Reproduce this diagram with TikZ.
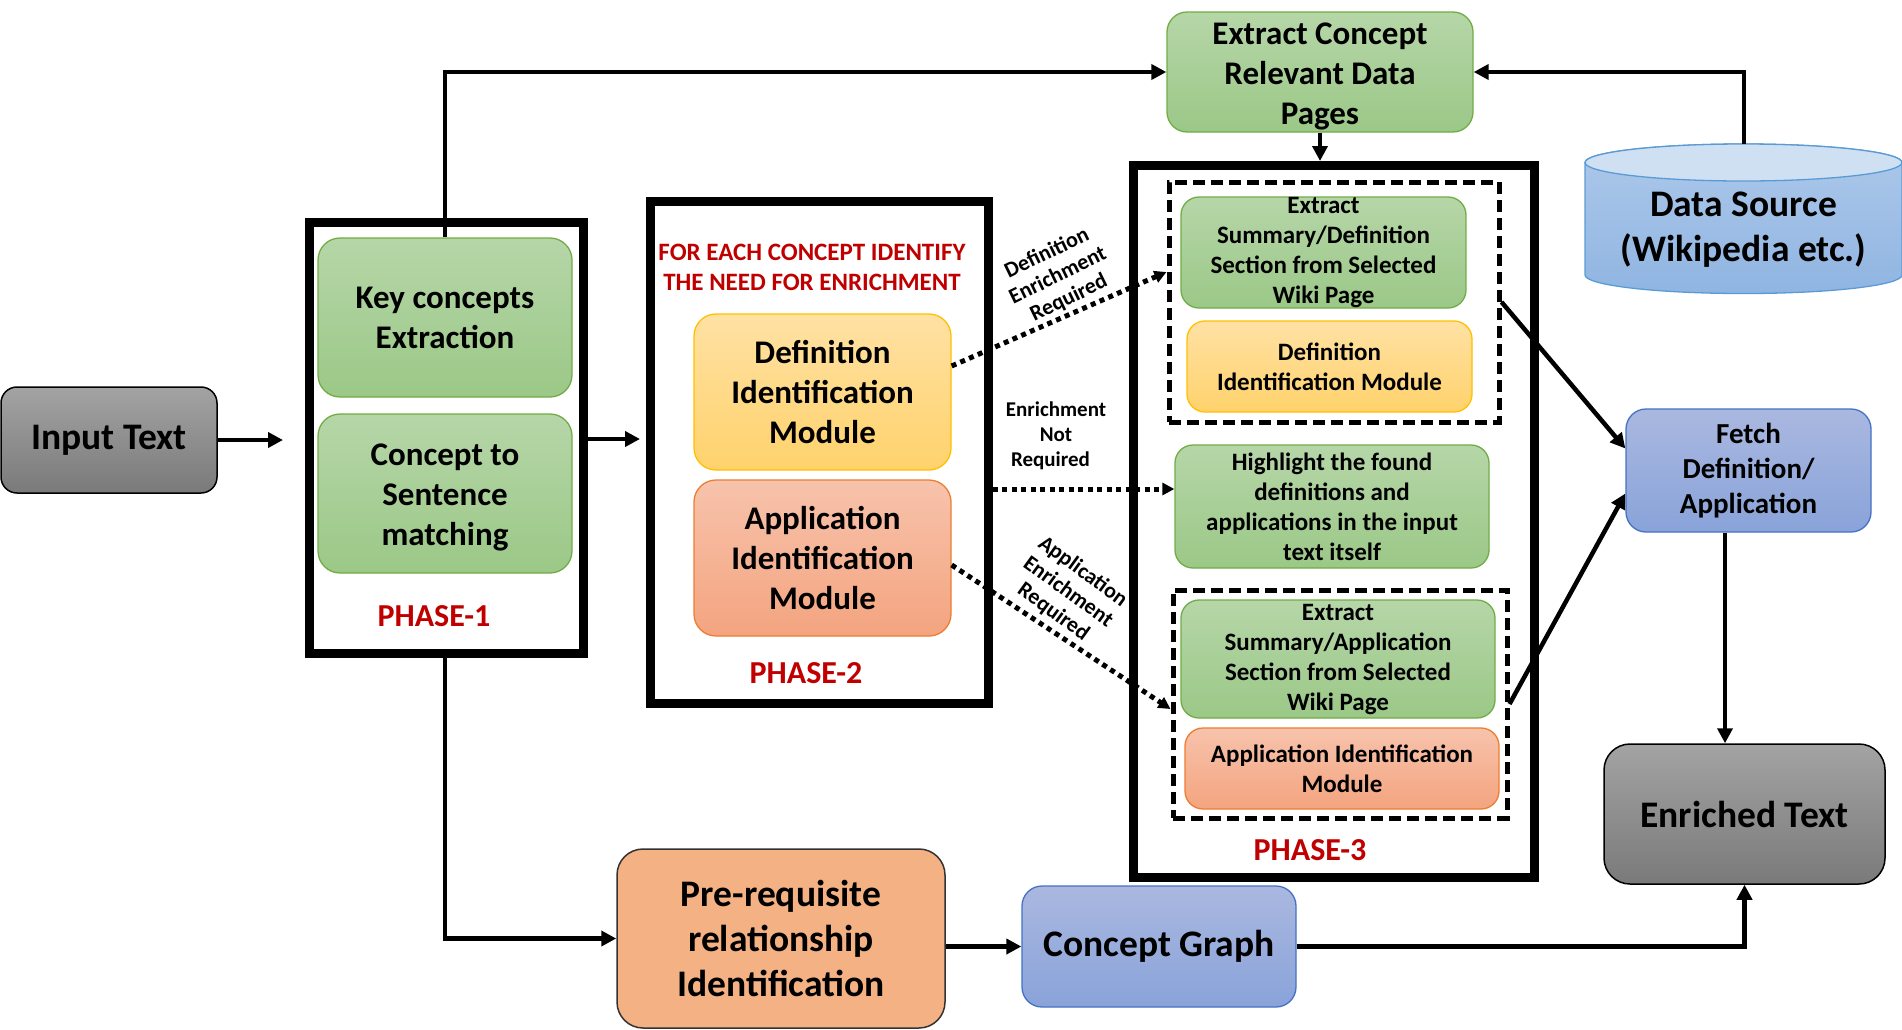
\documentclass[tikz,border=0pt]{standalone}
\usepackage{fontspec}
\setmainfont{Carlito}
\usetikzlibrary{arrows.meta,calc}
\definecolor{gtop}{HTML}{B6D6A8}
\definecolor{gbot}{HTML}{9BC887}
\definecolor{gbd}{HTML}{70AD47}
\definecolor{ytop}{HTML}{FFE1A4}
\definecolor{ybot}{HTML}{FFD26C}
\definecolor{ybd}{HTML}{FFC000}
\definecolor{stop}{HTML}{F7C3AC}
\definecolor{sbot}{HTML}{F4A47F}
\definecolor{sbd}{HTML}{ED7D31}
\definecolor{btop}{HTML}{AAB8E0}
\definecolor{bbot}{HTML}{89A3D9}
\definecolor{bbd}{HTML}{4472C4}
\definecolor{grtop}{HTML}{A3A3A3}
\definecolor{grbot}{HTML}{7A7A7A}
\definecolor{prefill}{HTML}{F3B184}
\definecolor{dstopc}{HTML}{CFE0F2}
\definecolor{dsbt}{HTML}{ADC8EA}
\definecolor{dsbb}{HTML}{90B5E2}
\definecolor{dsbd}{HTML}{5B9BD5}
\definecolor{redtxt}{HTML}{C00000}
\tikzset{
  basebox/.style={draw, line width=1.3pt, align=center, inner sep=0pt},
  greenbox/.style={basebox, draw=gbd, top color=gtop, bottom color=gbot, rounded corners=22pt},
  greensm/.style={basebox, draw=gbd, top color=gtop, bottom color=gbot, rounded corners=18pt},
  yellowbox/.style={basebox, draw=ybd, top color=ytop, bottom color=ybot, rounded corners=22pt},
  yellowsm/.style={basebox, draw=ybd, top color=ytop, bottom color=ybot, rounded corners=18pt},
  salmonbox/.style={basebox, draw=sbd, top color=stop, bottom color=sbot, rounded corners=22pt},
  salmonsm/.style={basebox, draw=sbd, top color=stop, bottom color=sbot, rounded corners=18pt},
  bluebox/.style={basebox, draw=bbd, top color=btop, bottom color=bbot, rounded corners=20pt},
  graybox/.style={basebox, draw=black, line width=1.5pt, top color=grtop, bottom color=grbot, rounded corners=22pt},
  prebox/.style={basebox, draw=black!80, line width=1.5pt, fill=prefill, rounded corners=26pt},
  phasebox/.style={draw=black, line width=9pt, inner sep=0pt},
  dashbox/.style={draw=black, line width=5pt, dash pattern=on 12pt off 6pt, inner sep=0pt},
  fbig/.style={font=\bfseries\fontsize{33}{40}\selectfont},
  fhuge/.style={font=\bfseries\fontsize{37.5}{45}\selectfont},
  fmid/.style={font=\bfseries\fontsize{29}{35}\selectfont},
  fsmall/.style={font=\bfseries\fontsize{25}{30}\selectfont},
  lbl/.style={align=center, inner sep=0pt, font=\bfseries\fontsize{21}{25}\selectfont},
  rlbl/.style={align=center, inner sep=0pt, font=\bfseries\fontsize{22}{25}\selectfont},
  phaselbl/.style={anchor=base, inner sep=0pt, text=redtxt, font=\bfseries\fontsize{32}{38}\selectfont},
  arr/.style={line width=4.5pt, -{Triangle[length=15pt,width=15pt]}},
  dotarr/.style={line width=5pt, dash pattern=on 5pt off 4.5pt, -{Triangle[length=12pt,width=12pt]}},
}
\begin{document}
\begin{tikzpicture}[x=1pt,y=-1pt]
\useasboundingbox (0,0) rectangle (1902,1029);

% phase boxes
\node[phasebox, minimum width=274pt, minimum height=431pt] (ph1) at (446,437.5) {};
\node[phasebox, minimum width=338pt, minimum height=502pt] (ph2) at (819,452) {};
\node[phasebox, minimum width=401pt, minimum height=712pt] (ph3) at (1333.5,521.5) {};
\node[dashbox, minimum width=330pt, minimum height=240pt] (dash1) at (1334,302) {};
\node[dashbox, minimum width=334pt, minimum height=228pt] (dash2) at (1340,704) {};

% left
\node[graybox, fhuge, minimum width=216pt, minimum height=106pt, rounded corners=16pt] (inp) at (109,440) {Input Text};
\node[greenbox, fbig, minimum width=254pt, minimum height=159pt] (key) at (445,317.5) {Key concepts\\Extraction};
\node[greenbox, fbig, minimum width=254pt, minimum height=159pt] (cts) at (445,493.5) {\rule{0pt}{29pt}Concept to\\Sentence\\matching};
\node[phaselbl] (p1) at (434,626) {PHASE-1};

% phase 2
\node[align=center, inner sep=0pt, text=redtxt, font=\bfseries\fontsize{25}{30}\selectfont] (hdr) at (812,267) {FOR EACH CONCEPT IDENTIFY\\THE NEED FOR ENRICHMENT};
\node[yellowbox, fbig, minimum width=257pt, minimum height=156pt] (defm) at (822.5,392) {Definition\\Identification\\Module};
\node[salmonbox, fbig, minimum width=257pt, minimum height=156pt] (appm) at (822.5,558) {Application\\Identification\\Module};
\node[phaselbl] (p2) at (806,683) {PHASE-2};

% top
\node[greenbox, fbig, minimum width=306pt, minimum height=120pt, rounded corners=20pt] (ext) at (1320,72) {\rule{0pt}{30pt}Extract Concept\\Relevant Data\\Pages};

% data source cylinder
\path[draw=dsbd, line width=1.3pt, top color=dsbt, bottom color=dsbb]
  (1585,162.5) -- (1585,275) arc[start angle=180, end angle=360, x radius=158.5pt, y radius=18.5pt]
  -- (1902,162.5) arc[start angle=0, end angle=180, x radius=158.5pt, y radius=18.5pt] -- cycle;
\path[draw=dsbd, line width=1.3pt, fill=dstopc] (1743.5,162.5) ellipse [x radius=158.5pt, y radius=18.5pt];
\coordinate (dstop) at (1744,144);
\node[align=center, inner sep=0pt, fhuge] (ds) at (1743.5,230) {Data Source\\(Wikipedia etc.)};

% phase 3
\node[greensm, fsmall, minimum width=285pt, minimum height=111pt] (esd) at (1323.5,252.5) {Extract\\Summary/Definition\\Section from Selected\\Wiki Page};
\node[yellowsm, fsmall, minimum width=285pt, minimum height=91pt] (dim) at (1329.5,366.5) {Definition\\Identification Module};
\node[greensm, fsmall, minimum width=314pt, minimum height=123pt] (hl) at (1332,506.5) {Highlight the found\\definitions and\\applications in the input\\text itself};
\node[greensm, fsmall, minimum width=314pt, minimum height=118pt] (esa) at (1338,659) {Extract\\Summary/Application\\Section from Selected\\Wiki Page};
\node[salmonsm, fsmall, minimum width=314pt, minimum height=81pt] (aim) at (1342,768.5) {Application Identification\\Module};
\node[phaselbl] (p3) at (1310,860) {PHASE-3};

% right
\node[bluebox, fmid, minimum width=245pt, minimum height=123pt] (fetch) at (1748.5,470.5) {Fetch\\Definition/\\Application};
\node[graybox, fhuge, minimum width=281pt, minimum height=140pt, rounded corners=26pt] (enr) at (1744.5,814) {Enriched Text};

% bottom
\node[prebox, fhuge, minimum width=328pt, minimum height=179pt] (pre) at (781,938.5) {Pre-requisite\\relationship\\Identification};
\node[bluebox, fhuge, minimum width=274pt, minimum height=121pt] (cg) at (1159,946.5) {Concept Graph};

% labels
\node[rlbl, rotate=26] (ldef) at (1058,276) {Definition\\Enrichment\\Required};
\node[lbl] (lnr) at (1056,436) {Enrichment\\Not\hspace*{20pt}\\Required\hspace*{11pt}};
\node[rlbl, rotate=-36] (lapp) at (1068,592) {Application\\Enrichment\\Required};

% connectors
\coordinate (p1in) at (283,440);
\draw[arr] (inp.east |- p1in) -- (p1in);
\coordinate (p2in) at (640,439);
\draw[arr] (ph1.east |- p2in) -- (p2in);
\draw[arr] (key.north) |- (ext.west);
\draw[arr] (key.center |- ph1.south) |- (pre.west);
\draw[arr] (ext.south) -- (ext.south |- ph3.north);
\draw[arr] (dstop) |- (ext.east);
\draw[dotarr] ($(defm.east)+(0,-26)$) -- ($(dash1.west)+(0,-30)$);
\coordinate (nr) at (993,489);
\draw[dotarr] (ph2.east |- nr) -- (hl.west |- nr);
\draw[dotarr] ($(appm.east)+(0,7)$) -- ($(dash2.west)+(0,5)$);
\draw[arr] (dash1.east) -- ($(fetch.west)+(0,-22)$);
\draw[arr] (dash2.east) -- ($(fetch.west)+(0,23)$);
\coordinate (fe) at ($(fetch.south)+(-23.5,0)$);
\draw[arr] (fe) -- (fe |- enr.north);
\draw[arr] (pre.east |- cg.west) -- (cg.west);
\draw[arr] (cg.east) -| (enr.south);
\end{tikzpicture}
\end{document}
